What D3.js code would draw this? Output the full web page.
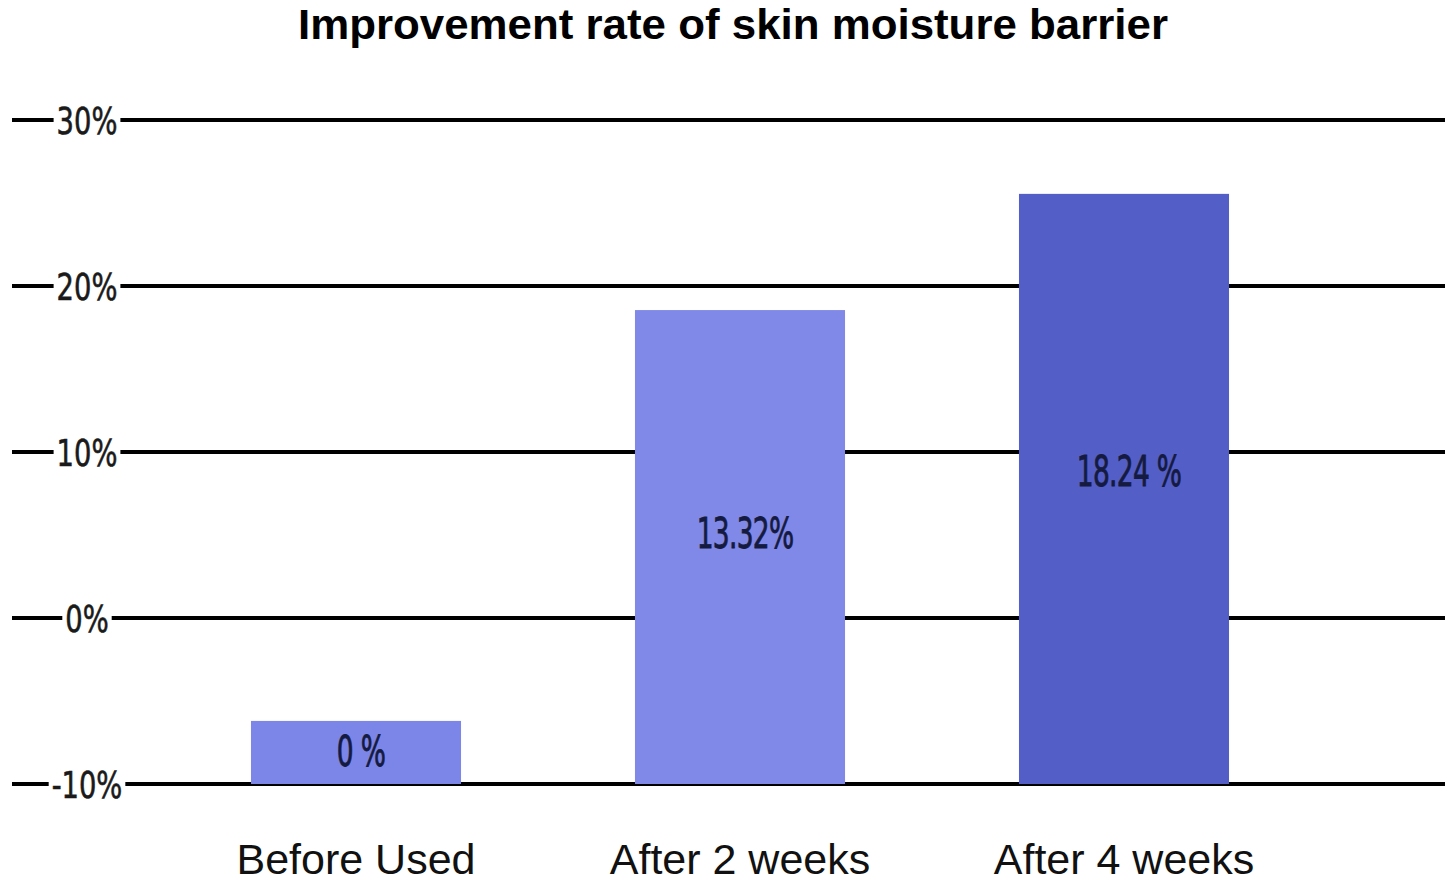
<!DOCTYPE html>
<meta charset="utf-8">
<style>
body { margin: 0; background: #fff; }
.grid line { stroke: #000; stroke-width: 4; }
.tick-label { font-family: "Liberation Sans Narrow", "DejaVu Sans Condensed", sans-serif; font-size: 38px; fill: #1a1a1a; stroke: #1a1a1a; stroke-width: 0.6px; }
.bar-label { font-family: "Liberation Sans Narrow", "DejaVu Sans Condensed", sans-serif; font-size: 42px; fill: #141a40; stroke: #141a40; stroke-width: 0.8px; letter-spacing: -1px; }
.cat-label { font-family: "Liberation Sans", Arial, sans-serif; font-size: 43px; fill: #111; }
.title { font-family: "Liberation Sans", Arial, sans-serif; font-weight: bold; font-size: 42px; fill: #000; }
</style>
<svg width="1445" height="884"></svg>
<script src="https://d3js.org/d3.v7.min.js"></script>
<script>

// data
var categories = ["Before Used", "After 2 weeks", "After 4 weeks"];
var barValues = [-6.2, 18.55, 25.55];          // plotted bar tops (%), bars start at -10%
var barLabels = ["0 %", "13.32%", "18.24 %"];
var barColors = ["#7c85e8", "#8088e8", "#535ec6"];
var tickValues = [30, 20, 10, 0, -10];
var tickLabels = ["30%", "20%", "10%", "0%", "-10%"];

var svg = d3.select("svg"),
    width = +svg.attr("width");

var x = d3.scaleBand()
    .domain(categories)
    .range([164, 1316])
    .paddingInner(0.453)
    .paddingOuter(0.2265);

var y = d3.scaleLinear().domain([-10, 30]).range([784, 120]);

svg.append("text")
    .attr("class", "title")
    .attr("x", 733)
    .attr("y", 39)
    .attr("text-anchor", "middle")
    .attr("textLength", 870)
    .attr("lengthAdjust", "spacingAndGlyphs")
    .text("Improvement rate of skin moisture barrier");

// gridlines with the tick labels sitting in a gap
var grid = svg.append("g").attr("class", "grid");
grid.selectAll("line")
  .data(tickValues)
  .enter().append("line")
    .attr("x1", 12)
    .attr("x2", width)
    .attr("y1", function(d) { return y(d); })
    .attr("y2", function(d) { return y(d); });

var ticks = svg.append("g").selectAll("g")
  .data(tickValues)
  .enter().append("g")
    .attr("transform", function(d) { return "translate(87," + y(d) + ")"; });

ticks.append("rect").attr("fill", "#fff");
ticks.append("text")
    .attr("class", "tick-label")
    .attr("text-anchor", "middle")
    .attr("dy", "0.36em")
    .attr("transform", "scale(0.8,1)")
    .text(function(d, i) { return tickLabels[i]; });
ticks.each(function() {
  var g = d3.select(this),
      b = g.select("text").node().getBBox();
  var w = b.width * 0.8;
  g.select("rect")
      .attr("x", -w / 2 - 3)
      .attr("y", -6)
      .attr("width", w + 6)
      .attr("height", 12);
});

// bars
svg.selectAll(".bar")
  .data(barValues)
  .enter().append("rect")
    .attr("class", "bar")
    .attr("x", function(d, i) { return x(categories[i]); })
    .attr("y", function(d) { return y(d); })
    .attr("width", x.bandwidth())
    .attr("height", function(d) { return y(-10) - y(d); })
    .attr("fill", function(d, i) { return barColors[i]; });

svg.selectAll(".bar-label")
  .data(barValues)
  .enter().append("text")
    .attr("class", "bar-label")
    .attr("text-anchor", "middle")
    .attr("dy", "0.36em")
    .attr("transform", function(d, i) {
      var cx = x(categories[i]) + x.bandwidth() / 2 + 5,
          cy = y(d) + 0.47 * (y(-10) - y(d));
      return "translate(" + cx + "," + cy + ") scale(0.7,1)";
    })
    .text(function(d, i) { return barLabels[i]; });

// category labels
svg.selectAll(".cat-label")
  .data(categories)
  .enter().append("text")
    .attr("class", "cat-label")
    .attr("x", function(d) { return x(d) + x.bandwidth() / 2; })
    .attr("y", 874)
    .attr("text-anchor", "middle")
    .text(function(d) { return d; });

</script>
